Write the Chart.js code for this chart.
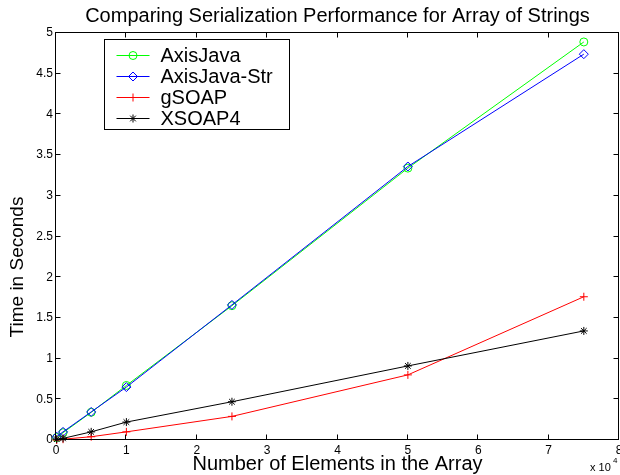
<!DOCTYPE html>
<html>
<head>
<meta charset="utf-8">
<script src="https://cdn.jsdelivr.net/npm/chart.js@4/dist/chart.umd.min.js"></script>
<style>
html,body{margin:0;padding:0;background:#fff;overflow:hidden}
#wrap{width:620px;height:475px;position:relative}
canvas{display:block}
</style>
</head>
<body>
<div id="wrap"><canvas id="c" width="620" height="475"></canvas></div>
<script>
// ---- data ----
const elements    = [100, 1000, 5000, 10000, 25000, 50000, 75000];
const axisJava    = [0.03, 0.09, 0.34, 0.67, 1.65, 3.34, 4.89];
const axisJavaStr = [0.04, 0.10, 0.345, 0.65, 1.66, 3.36, 4.74];
const gSOAP       = [0.00, 0.01, 0.04, 0.10, 0.29, 0.80, 1.76];
const xsoap4      = [0.01, 0.02, 0.10, 0.22, 0.47, 0.91, 1.34];
const seriesNames = ['AxisJava', 'AxisJava-Str', 'gSOAP', 'XSOAP4'];
const xTickLabels = ['0','1','2','3','4','5','6','7','8'];   // in units of 10^4
const yTickLabels = ['0','0.5','1','1.5','2','2.5','3','3.5','4','4.5','5'];
const titleText  = 'Comparing Serialization Performance for Array of Strings';
const xTitleText = 'Number of Elements in the Array';
const yTitleText = 'Time in Seconds';

const FONT = "'Liberation Sans', Arial, Helvetica, sans-serif";
Chart.defaults.font.family = FONT;
Chart.defaults.color = '#000';

function pts(vals) { return elements.map((x, i) => ({x: x, y: vals[i]})); }

const common = {
  borderWidth: 1, pointBorderWidth: 1, pointBackgroundColor: 'rgba(0,0,0,0)',
  fill: false, tension: 0, clip: false, pointHoverBorderWidth: 1
};
const datasets = [
  Object.assign({label: seriesNames[0], data: pts(axisJava), borderColor: '#00ff00', pointBorderColor: '#00ff00', pointStyle: 'circle', pointRadius: 4, pointHoverRadius: 4, order: 3}, common),
  Object.assign({label: seriesNames[1], data: pts(axisJavaStr), borderColor: '#0000ff', pointBorderColor: '#0000ff', pointStyle: 'rectRot', pointRadius: 4.5, pointHoverRadius: 4.5, order: 2}, common),
  Object.assign({label: seriesNames[2], data: pts(gSOAP), borderColor: '#ff0000', pointBorderColor: '#ff0000', pointStyle: 'cross', pointRadius: 4, pointHoverRadius: 4, order: 1}, common),
  Object.assign({label: seriesNames[3], data: pts(xsoap4), borderColor: '#000000', pointBorderColor: '#000000', pointStyle: 'star', pointRadius: 4, pointHoverRadius: 4, order: 0}, common)
];

function drawMarker(ctx, style, x, y, r) {
  ctx.beginPath();
  if (style === 'circle') {
    ctx.arc(x, y, r, 0, Math.PI * 2);
  } else if (style === 'rectRot') {
    ctx.moveTo(x - r, y); ctx.lineTo(x, y - r); ctx.lineTo(x + r, y); ctx.lineTo(x, y + r); ctx.closePath();
  } else if (style === 'cross') {
    ctx.moveTo(x - r, y); ctx.lineTo(x + r, y); ctx.moveTo(x, y - r); ctx.lineTo(x, y + r);
  } else if (style === 'star') {
    ctx.moveTo(x - r, y); ctx.lineTo(x + r, y); ctx.moveTo(x, y - r); ctx.lineTo(x, y + r);
    const d = r * Math.SQRT1_2;
    ctx.moveTo(x - d, y - d); ctx.lineTo(x + d, y + d); ctx.moveTo(x - d, y + d); ctx.lineTo(x + d, y - d);
  }
  ctx.stroke();
}

const framePlugin = {
  id: 'frame',
  afterDatasetsDraw(chart) {
    const {ctx, chartArea: a, scales} = chart;
    ctx.save();
    ctx.strokeStyle = '#000'; ctx.lineWidth = 1;
    const L = Math.round(a.left) - 0.5, R = Math.round(a.right) - 0.5;
    const T = Math.round(a.top) - 0.5, B = Math.round(a.bottom) - 0.5;
    ctx.strokeRect(L, T, R - L, B - T);
    const len = 5;
    ctx.beginPath();
    scales.x.ticks.forEach(t => {
      const px = Math.round(scales.x.getPixelForValue(t.value)) - 0.5;
      ctx.moveTo(px, B); ctx.lineTo(px, B - len);
      ctx.moveTo(px, T); ctx.lineTo(px, T + len);
    });
    scales.y.ticks.forEach(t => {
      const py = Math.round(scales.y.getPixelForValue(t.value)) - 0.5;
      ctx.moveTo(L, py); ctx.lineTo(L + len, py);
      ctx.moveTo(R, py); ctx.lineTo(R - len, py);
    });
    ctx.stroke();
    ctx.restore();
  },
  afterDraw(chart) {
    const {ctx, chartArea: a} = chart;
    ctx.save();
    // y axis title
    ctx.fillStyle = '#000';
    ctx.font = '19px ' + FONT;
    ctx.textAlign = 'center'; ctx.textBaseline = 'middle';
    ctx.translate(18, 267);
    ctx.rotate(-Math.PI / 2);
    ctx.fillText(yTitleText, 0, 0);
    ctx.restore();

    // x 10^4 exponent
    ctx.save();
    ctx.fillStyle = '#000';
    ctx.textBaseline = 'alphabetic'; ctx.textAlign = 'left';
    ctx.font = '11px ' + FONT;
    ctx.fillText('x 10', 590, 471);
    ctx.font = '8px ' + FONT;
    ctx.fillText('4', 613, 463);
    ctx.restore();

    // legend
    ctx.save();
    const bx = a.left + 48.5, by = a.top + 6.5, bw = 185, bh = 90;
    ctx.fillStyle = '#fff';
    ctx.fillRect(bx, by, bw, bh);
    ctx.strokeStyle = '#000'; ctx.lineWidth = 1;
    ctx.strokeRect(bx, by, bw, bh);
    chart.data.datasets.forEach((ds, i) => {
      const y = Math.round(by + 15 + i * 21) + 0.5;
      ctx.strokeStyle = ds.borderColor; ctx.lineWidth = 1;
      ctx.beginPath(); ctx.moveTo(bx + 12, y); ctx.lineTo(bx + 45, y); ctx.stroke();
      drawMarker(ctx, ds.pointStyle, bx + 28.5, y, ds.pointStyle === 'rectRot' ? 4.5 : 4);
      ctx.fillStyle = '#000';
      ctx.font = '20px ' + FONT;
      ctx.textAlign = 'left'; ctx.textBaseline = 'middle';
      ctx.fillText(ds.label, bx + 56, y + 1);
    });
    ctx.restore();
  }
};

new Chart(document.getElementById('c'), {
  type: 'line',
  data: {datasets: datasets},
  options: {
    responsive: false,
    animation: false,
    devicePixelRatio: 1,
    events: [],
    layout: {autoPadding: false, padding: {left: 0, right: 1, top: 0, bottom: 0}},
    plugins: {
      legend: {display: false},
      tooltip: {enabled: false},
      title: {
        display: true, text: titleText, fullSize: false, color: '#000',
        font: {size: 20, weight: 'normal', family: FONT},
        padding: {top: 4, bottom: 5}
      }
    },
    scales: {
      x: {
        type: 'linear', min: 0, max: 80000,
        afterBuildTicks: s => { s.ticks = xTickLabels.map(v => ({value: Number(v) * 10000})); },
        ticks: {
          callback: (v) => xTickLabels[Math.round(v / 10000)],
          font: {size: 12}, color: '#000', padding: 3, maxRotation: 0, autoSkip: false
        },
        grid: {display: true, drawOnChartArea: false, drawTicks: false},
        border: {display: false},
        title: {display: true, text: xTitleText, color: '#000', font: {size: 20}, padding: {top: 0, bottom: -1}},
        afterFit: s => { s.height = 35; s.paddingLeft = 0; s.paddingRight = 0; }
      },
      y: {
        type: 'linear', min: 0, max: 5,
        afterBuildTicks: s => { s.ticks = yTickLabels.map(v => ({value: Number(v)})); },
        ticks: {
          callback: (v) => yTickLabels[Math.round(v * 2)],
          font: {size: 12}, color: '#000', padding: 3, autoSkip: false
        },
        grid: {display: true, drawOnChartArea: false, drawTicks: false},
        border: {display: false},
        title: {display: false},
        afterFit: s => { s.width = 56; s.paddingTop = 0; s.paddingBottom = 0; }
      }
    }
  },
  plugins: [framePlugin]
});
</script>
</body>
</html>
